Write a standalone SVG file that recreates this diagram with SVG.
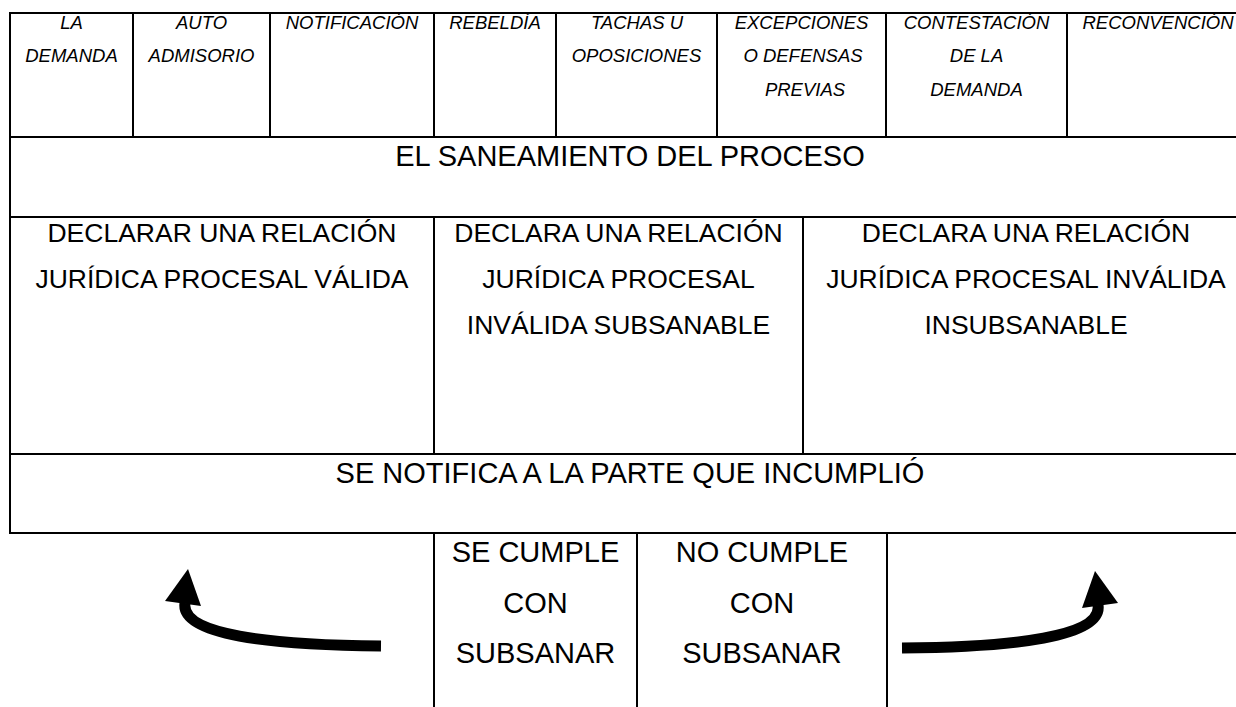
<svg xmlns="http://www.w3.org/2000/svg" width="1236" height="707" viewBox="0 0 1236 707">
<style>
.ln{stroke:#000;stroke-width:2;fill:none}
.cell{fill:#fff;stroke:#000;stroke-width:2}
.t{font-family:"Liberation Sans",Arial,sans-serif;fill:#000;text-anchor:middle}
.s{font-size:18.5px;font-style:italic}
.b{font-size:29px}
.m{font-size:26.5px}
.arr{stroke:#000;stroke-width:11;fill:none}
.hd{fill:#000}
</style>
<rect width="1236" height="707" fill="#fff"/>
<g id="n-demanda"><rect class="cell" x="10" y="13" width="123" height="124"/><text class="t s" x="71.5" y="28.5">LA</text><text class="t s" x="71.5" y="62">DEMANDA</text></g>
<g id="n-auto"><rect class="cell" x="133" y="13" width="137" height="124"/><text class="t s" x="201.5" y="28.5">AUTO</text><text class="t s" x="201.5" y="62">ADMISORIO</text></g>
<g id="n-notificacion"><rect class="cell" x="270" y="13" width="164" height="124"/><text class="t s" x="352" y="28.5">NOTIFICACIÓN</text></g>
<g id="n-rebeldia"><rect class="cell" x="434" y="13" width="122" height="124"/><text class="t s" x="495" y="28.5">REBELDÍA</text></g>
<g id="n-tachas"><rect class="cell" x="556" y="13" width="161" height="124"/><text class="t s" x="637" y="28.5">TACHAS U</text><text class="t s" x="636.5" y="62">OPOSICIONES</text></g>
<g id="n-excepciones"><rect class="cell" x="717" y="13" width="169" height="124"/><text class="t s" x="801.5" y="28.5">EXCEPCIONES</text><text class="t s" x="803" y="62">O DEFENSAS</text><text class="t s" x="805" y="95.5">PREVIAS</text></g>
<g id="n-contestacion"><rect class="cell" x="886" y="13" width="181" height="124"/><text class="t s" x="976.5" y="28.5">CONTESTACIÓN</text><text class="t s" x="976.5" y="62">DE LA</text><text class="t s" x="976.5" y="95.5">DEMANDA</text></g>
<g id="n-reconvencion"><rect class="cell" x="1067" y="13" width="182" height="124"/><text class="t s" x="1158" y="28.5">RECONVENCIÓN</text></g>
<g id="n-saneamiento"><rect class="cell" x="10" y="137" width="1239" height="80"/><text class="t b" x="630" y="165.7">EL SANEAMIENTO DEL PROCESO</text></g>
<g id="n-valida"><rect class="cell" x="10" y="217" width="424" height="237"/><text class="t m" x="222" y="241.7">DECLARAR UNA RELACIÓN</text><text class="t m" x="222" y="288.3">JURÍDICA PROCESAL VÁLIDA</text></g>
<g id="n-subsanable"><rect class="cell" x="434" y="217" width="369" height="237"/><text class="t m" x="618.5" y="241.7">DECLARA UNA RELACIÓN</text><text class="t m" x="618.5" y="288.3">JURÍDICA PROCESAL</text><text class="t m" x="618.5" y="334">INVÁLIDA SUBSANABLE</text></g>
<g id="n-insubsanable"><rect class="cell" x="803" y="217" width="446" height="237"/><text class="t m" x="1026" y="241.7">DECLARA UNA RELACIÓN</text><text class="t m" x="1026" y="288.3">JURÍDICA PROCESAL INVÁLIDA</text><text class="t m" x="1026" y="334">INSUBSANABLE</text></g>
<g id="n-notifica"><rect class="cell" x="10" y="454" width="1239" height="79"/><text class="t b" x="630" y="482.7">SE NOTIFICA A LA PARTE QUE INCUMPLIÓ</text></g>
<g id="n-cumple"><path class="ln" d="M434,533V707M637,533V707"/><text class="t b" x="535.5" y="562.3">SE CUMPLE</text><text class="t b" x="535.5" y="613.3">CON</text><text class="t b" x="535.5" y="663.3">SUBSANAR</text></g>
<g id="n-nocumple"><path class="ln" d="M887,533V707"/><text class="t b" x="762" y="562.3">NO CUMPLE</text><text class="t b" x="762" y="613.3">CON</text><text class="t b" x="762" y="663.3">SUBSANAR</text></g>
<g id="connectors">
<path class="arr" d="M381,646 C270,645 180,635 185,603"/>
<polygon class="hd" points="188,569 165,601 201,606"/>
<path class="arr" d="M902,648 C1013,647 1103,637 1098,605"/>
<polygon class="hd" points="1095,571 1118,603 1082,608"/>
</g>
</svg>
